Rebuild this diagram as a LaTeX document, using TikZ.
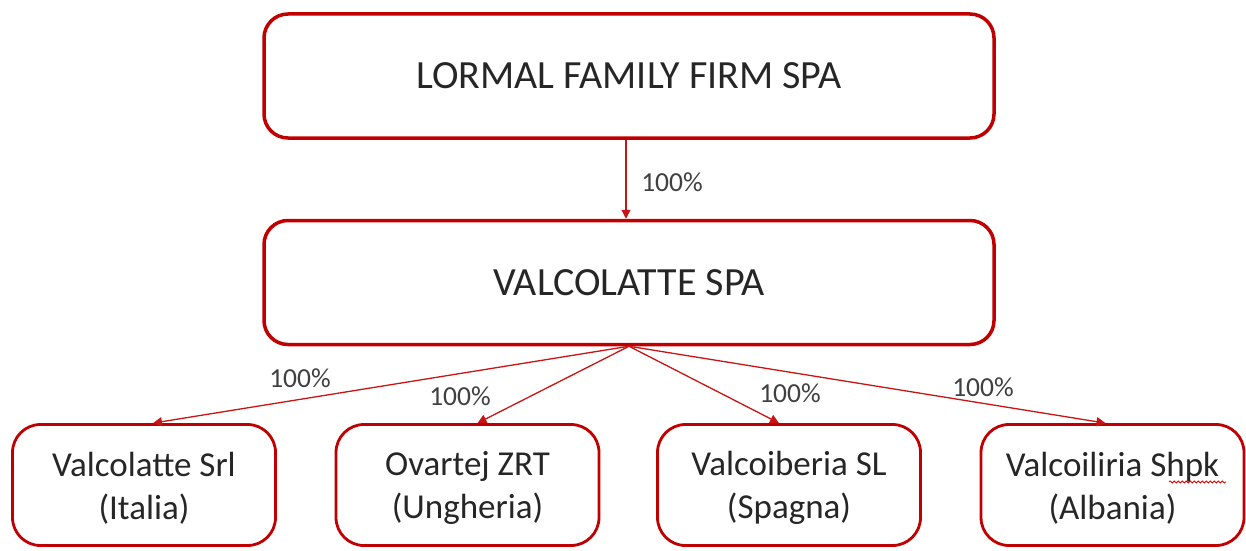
\documentclass[tikz,border=0pt]{standalone}
\usepackage{fontspec}
\setmainfont{Carlito}
\usetikzlibrary{arrows.meta,decorations.pathmorphing}
\definecolor{boxred}{HTML}{C00000}
\definecolor{linkred}{HTML}{C81414}
\definecolor{txt}{HTML}{262626}
\definecolor{lbl}{HTML}{404040}
\begin{document}
\begin{tikzpicture}[x=1pt,y=1pt,
  bigbox/.style={draw=boxred, line width=3.5pt, rounded corners=24pt, minimum width=730pt, minimum height=124pt, inner sep=0pt, text=txt, font=\fontsize{40}{48}\selectfont},
  smallbox/.style={draw=boxred, line width=2.8pt, rounded corners=28pt, minimum width=263pt, minimum height=121pt, inner sep=0pt},
  boxtext/.style={align=center, inner sep=0pt, text=txt, font=\fontsize{35}{43}\selectfont},
  link/.style={draw=linkred, line width=1.3pt, -{Triangle[length=9pt,width=9pt]}},
  pct/.style={text=lbl, font=\fontsize{27.5}{32}\selectfont, inner sep=0pt}]
\useasboundingbox (0,0) rectangle (1246,550);
\node[bigbox] (top) at (629,474) {LORMAL FAMILY FIRM SPA};
\node[bigbox] (mid) at (629,267.5) {VALCOLATTE SPA};
\node[smallbox] (b1) at (144,65) {};
\node[smallbox] (b2) at (467.5,65) {};
\node[smallbox] (b3) at (789,65) {};
\node[smallbox] (b4) at (1112.5,65) {};
\node[boxtext] (t1) at ([yshift=-3pt]b1.center) {Valcolatte Srl\\(Italia)};
\node[boxtext] (t2) at ([yshift=-3pt]b2.center) {Ovartej ZRT\\(Ungheria)};
\node[boxtext] (t3) at ([yshift=-3pt]b3.center) {Valcoiberia SL\\(Spagna)};
\node[boxtext] (t4) at ([yshift=-3pt]b4.center) {Valcoiliria Shpk\\(Albania)};
\draw[link] ([xshift=-3pt]top.south) -- ([xshift=-3pt]mid.north);
\draw[link] (mid.south) -- ([xshift=9pt]b1.north);
\draw[link] (mid.south) -- ([xshift=10pt]b2.north);
\draw[link] (mid.south) -- ([xshift=-10pt]b3.north);
\draw[link] (mid.south) -- ([xshift=-7pt]b4.north);
\node[pct] (p0) at (672,368) {100\%};
\node[pct] (p1) at (300,172) {100\%};
\node[pct] (p2) at (460,154) {100\%};
\node[pct] (p3) at (790,157) {100\%};
\node[pct] (p4) at (983,163) {100\%};
\draw[red!85!black, line width=0.8pt, decorate, decoration={snake, amplitude=1pt, segment length=4pt}] (1169,68) -- (1226,68);
\end{tikzpicture}
\end{document}
